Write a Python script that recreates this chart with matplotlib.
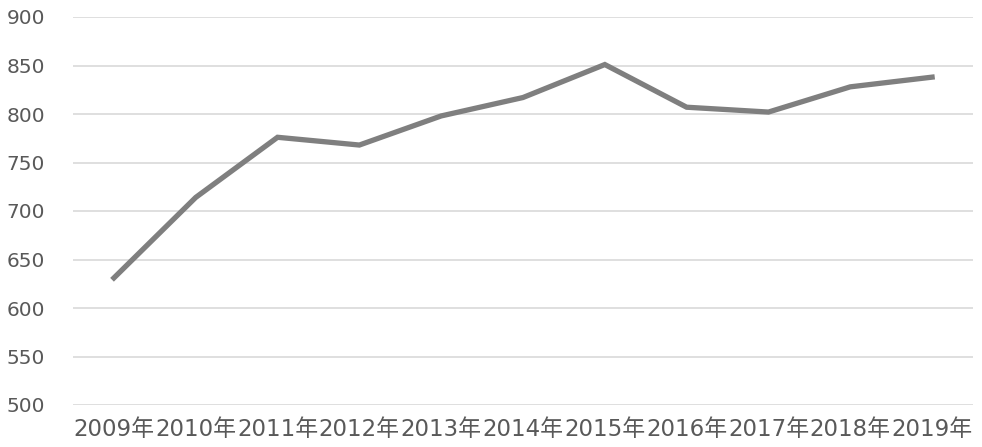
import matplotlib
matplotlib.use("Agg")
import matplotlib.pyplot as plt

years = ["2009年", "2010年", "2011年", "2012年", "2013年", "2014年",
         "2015年", "2016年", "2017年", "2018年", "2019年"]
values = [631, 714, 776, 768, 798, 817, 851, 807, 802, 828, 838]
yticks = [500, 550, 600, 650, 700, 750, 800, 850, 900]

plt.rcParams['font.family'] = ['DejaVu Sans', 'Noto Sans CJK SC']

fig = plt.figure(figsize=(9.82, 4.47), dpi=100)
ax = fig.add_axes([73/982, 1-405/447, 900/982, 388/447])

x = list(range(len(years)))
ax.plot(x, values, color="#7f7f7f", linewidth=3.8, solid_joinstyle="miter", zorder=3)

ax.set_xlim(-0.5, len(years) - 0.5)
ax.set_ylim(500, 900)
ax.set_yticks(yticks)
ax.set_xticks(x)
ax.set_xticklabels(years)
ax.grid(axis="y", color="#d9d9d9", linewidth=1.2)
ax.set_axisbelow(True)
for s in ax.spines.values():
    s.set_visible(False)
ax.tick_params(axis="both", length=0, colors="#595959")
ax.tick_params(axis="y", pad=20, labelsize=14.5)
ax.tick_params(axis="x", pad=9, labelsize=16.5)

fig.savefig("out.png", dpi=100, facecolor="white")
